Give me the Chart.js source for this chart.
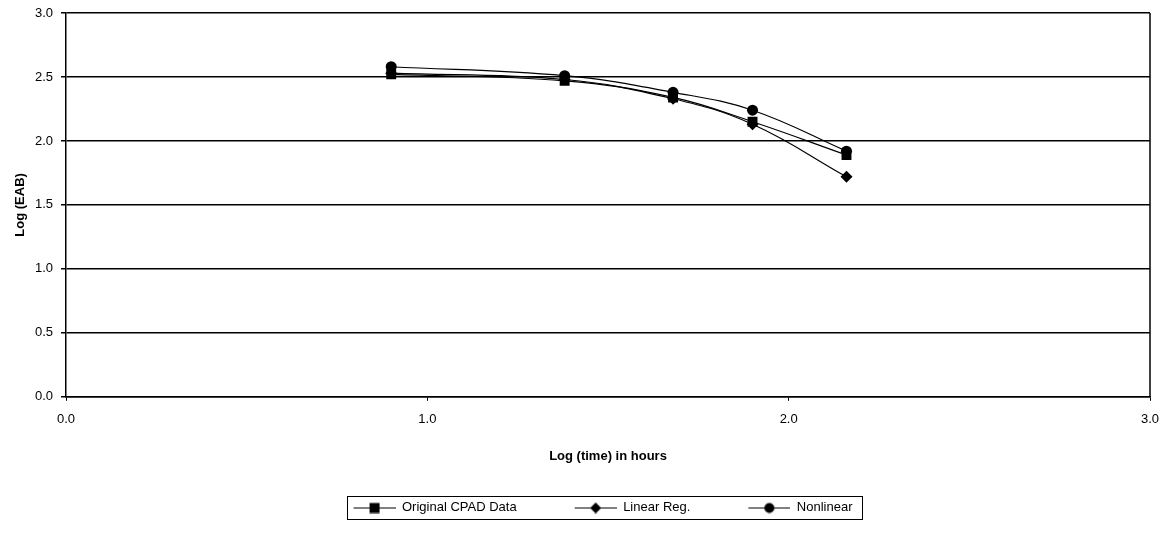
<!DOCTYPE html>
<html>
<head>
<meta charset="utf-8">
<script src="https://cdn.jsdelivr.net/npm/chart.js@4.4.1/dist/chart.umd.min.js"></script>
<style>
  html, body { margin: 0; padding: 0; background: #fff; }
  #wrap { width: 1167px; height: 533px; position: relative; }
</style>
</head>
<body>
<div id="wrap"><canvas id="c" width="1167" height="533"></canvas></div>
<script>
// ---- Data ----
const logTime = [0.90, 1.38, 1.68, 1.90, 2.16];
const originalCPAD = [2.52, 2.47, 2.34, 2.15, 1.89];
const linearReg = [2.53, 2.48, 2.33, 2.13, 1.72];
const nonlinear = [2.58, 2.51, 2.38, 2.24, 1.92];
const seriesNames = ['Original CPAD Data', 'Linear Reg.', 'Nonlinear'];
const xTicks = [0, 1, 2, 3];
const yTicks = [0, 0.5, 1, 1.5, 2, 2.5, 3];

const FONT = '"Liberation Sans", Arial, sans-serif';
const ICON_W = 90;      // legend icon canvas width (includes blank lead-in as spacing)
const ICON_LINE = 42;   // visible line+marker part at the right of the icon

function pts(ys) { return logTime.map((x, i) => ({ x: x, y: ys[i] })); }

function legendIcon(style) {
  const c = document.createElement('canvas');
  c.width = ICON_W; c.height = 12;
  const g = c.getContext('2d');
  const x0 = ICON_W - ICON_LINE, cx = x0 + ICON_LINE / 2;
  g.strokeStyle = '#000'; g.lineWidth = 1;
  g.beginPath(); g.moveTo(x0, 6.5); g.lineTo(ICON_W, 6.5); g.stroke();
  g.fillStyle = '#000';
  if (style === 'rect') { g.fillRect(cx - 5, 1.5, 10, 10); }
  else if (style === 'rectRot') { g.beginPath(); g.moveTo(cx, 1); g.lineTo(cx + 5.5, 6.5); g.lineTo(cx, 12); g.lineTo(cx - 5.5, 6.5); g.closePath(); g.fill(); }
  else { g.beginPath(); g.arc(cx, 6.5, 5, 0, Math.PI * 2); g.fill(); }
  return c;
}

const styles = ['rect', 'rectRot', 'circle'];
const radii = [7, 6, 5.5];

const frame = {
  id: 'frame',
  afterDraw(chart) {
    const { ctx, chartArea } = chart;
    ctx.save();
    ctx.strokeStyle = '#000';
    ctx.lineWidth = 1.5;
    ctx.beginPath();
    ctx.moveTo(chartArea.right, chartArea.top);
    ctx.lineTo(chartArea.right, chartArea.bottom);
    ctx.stroke();
    // legend border
    const lg = chart.legend;
    if (lg && lg.legendHitBoxes && lg.legendHitBoxes.length) {
      const hb = lg.legendHitBoxes;
      const l = hb[0].left + (ICON_W - ICON_LINE) - 7;
      const last = hb[hb.length - 1];
      const r = last.left + last.width + 9;
      const t = hb[0].top - 5, b = hb[0].top + hb[0].height + 5;
      ctx.lineWidth = 1;
      ctx.strokeRect(Math.round(l) + 0.5, Math.round(t) + 0.5, Math.round(r - l), Math.round(b - t));
    }
    ctx.restore();
  }
};

new Chart(document.getElementById('c'), {
  type: 'scatter',
  data: {
    datasets: [originalCPAD, linearReg, nonlinear].map((d, i) => ({
      label: seriesNames[i],
      data: pts(d),
      showLine: true,
      tension: 0.4,
      borderColor: '#000',
      backgroundColor: '#000',
      borderWidth: 1.2,
      pointStyle: styles[i],
      pointRadius: radii[i],
      pointBackgroundColor: '#000',
      pointBorderColor: '#000',
      pointBorderWidth: 0,
      order: 3 - i
    }))
  },
  options: {
    responsive: false,
    animation: false,
    devicePixelRatio: 1,
    layout: { autoPadding: false, padding: { left: 8, right: 17, top: 13, bottom: 9 } },
    plugins: {
      tooltip: { enabled: false },
      legend: {
        position: 'bottom',
        labels: {
          color: '#000',
          font: { family: FONT, size: 13 },
          usePointStyle: true,
          pointStyleWidth: ICON_W,
          padding: 10,
          generateLabels(chart) {
            return chart.data.datasets.map((ds, i) => ({
              text: ds.label,
              pointStyle: legendIcon(styles[i]),
              fillStyle: '#000', strokeStyle: '#000', lineWidth: 0,
              fontColor: '#000',
              datasetIndex: i, hidden: false
            }));
          }
        }
      }
    },
    scales: {
      x: {
        type: 'linear',
        min: 0, max: 3,
        afterBuildTicks(scale) { scale.ticks = xTicks.map(v => ({ value: v })); },
        afterFit(scale) { scale.paddingLeft = 0; scale.paddingRight = 0; },
        ticks: { color: '#000', font: { family: FONT, size: 13 }, padding: 11, callback: v => Number(v).toFixed(1), maxRotation: 0 },
        grid: { drawOnChartArea: false, drawTicks: true, tickLength: 4, color: '#000' },
        border: { color: '#000', width: 1.5 },
        title: { display: true, text: 'Log (time) in hours', color: '#000', font: { family: FONT, size: 13, weight: 'bold' }, padding: { top: 10, bottom: 27 } }
      },
      y: {
        type: 'linear',
        min: 0, max: 3,
        afterBuildTicks(scale) { scale.ticks = yTicks.map(v => ({ value: v })); },
        afterFit(scale) { scale.width = 58; scale.paddingTop = 0; scale.paddingBottom = 0; },
        ticks: { color: '#000', font: { family: FONT, size: 13 }, padding: 8, callback: v => Number(v).toFixed(1) },
        grid: { color: '#000', lineWidth: 1.5, drawTicks: true, tickLength: 5 },
        border: { color: '#000', width: 1.5 },
        title: { display: true, text: 'Log (EAB)', color: '#000', font: { family: FONT, size: 13, weight: 'bold' }, padding: { top: 5, bottom: 4 } }
      }
    }
  },
  plugins: [frame]
});
</script>
</body>
</html>
